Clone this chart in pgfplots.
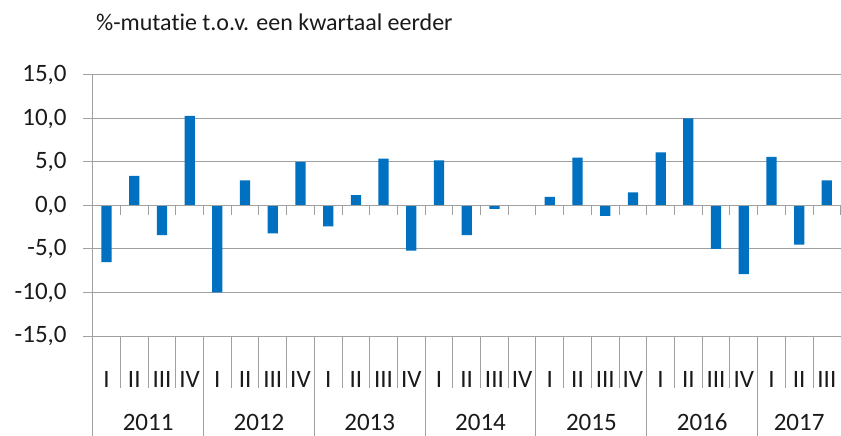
\documentclass[border=0pt]{standalone}
\usepackage{pgfplots}
\pgfplotsset{compat=1.18}
\usepackage{fontspec}
\setmainfont{Carlito}[RawFeature={-liga;-clig;-dlig;-calt}]
\definecolor{barblue}{HTML}{0070C0}
\definecolor{gridgray}{HTML}{A0A0A0}
\definecolor{txt}{HTML}{1A1A1A}
\begin{document}
\begin{tikzpicture}
\useasboundingbox (0bp,0bp) rectangle (841bp,436bp);
\node[anchor=west, inner sep=0pt, text=txt, font=\fontsize{24bp}{28bp}\selectfont] at (96bp,414bp) {\%-mutat\kern0pt ie t.o.v. een kwartaal eerder};
\begin{axis}[
  at={(92.7bp,100bp)}, anchor=south west,
  scale only axis, width=748bp, height=261bp,
  xmin=-0.5, xmax=26.5, ymin=-15, ymax=15,
  clip=false,
  ytick={-15,-10,...,15},
  ymajorgrids, grid style={gridgray, line width=1bp},
  axis line style={draw=none},
  tick align=outside,
  ytick style={gridgray, line width=1bp},
  major tick length=9.4bp,
  xtick={0,...,26}, xtick style={draw=none},
  xticklabels={I,II,III,IV,I,II,III,IV,I,II,III,IV,I,II,III,IV,I,II,III,IV,I,II,III,IV,I,II,III},
  tick label style={text=txt, font=\fontsize{25bp}{30bp}\selectfont},
  xticklabel style={anchor=center, inner sep=0pt, yshift=-34bp},
  yticklabel style={anchor=east, inner sep=0pt, xshift=-16.5bp, /pgf/number format/.cd, fixed, fixed zerofill, precision=1, use comma},
  /pgf/number format/assume math mode=true,
]
\addplot[ybar, bar width=0.37, fill=barblue, draw=none] coordinates {
(0,-6.5) (1,3.4) (2,-3.4) (3,10.3)
(4,-10.0) (5,2.9) (6,-3.2) (7,5.0)
(8,-2.4) (9,1.2) (10,5.4) (11,-5.2)
(12,5.2) (13,-3.4) (14,-0.4) (15,0.0)
(16,1.0) (17,5.5) (18,-1.2) (19,1.5)
(20,6.1) (21,10.0) (22,-5.0) (23,-7.9)
(24,5.6) (25,-4.5) (26,2.9)
};
\draw[gridgray, line width=1bp] (axis cs:-0.5,0) -- (axis cs:26.5,0);
\pgfplotsinvokeforeach{0.5,1.5,...,26.5}{\draw[gridgray, line width=1bp] (axis cs:#1,0) -- ++(0bp,-10bp);}
\pgfplotsinvokeforeach{0.5,1.5,2.5,4.5,5.5,6.5,8.5,9.5,10.5,12.5,13.5,14.5,16.5,17.5,18.5,20.5,21.5,22.5,24.5,25.5}{\draw[gridgray, line width=1bp] (axis cs:#1,-15) -- ++(0bp,-52bp);}
\pgfplotsinvokeforeach{3.5,7.5,11.5,15.5,19.5,23.5}{\draw[gridgray, line width=1bp] (axis cs:#1,-15) -- ++(0bp,-100bp);}
\draw[gridgray, line width=1bp] (axis cs:-0.5,15) -- (axis cs:-0.5,-15) -- ++(0bp,-100bp);
\node[text=txt, font=\fontsize{25bp}{30bp}\selectfont] at (axis cs:1.5,-15) [yshift=-86bp] {2011};
\node[text=txt, font=\fontsize{25bp}{30bp}\selectfont] at (axis cs:5.5,-15) [yshift=-86bp] {2012};
\node[text=txt, font=\fontsize{25bp}{30bp}\selectfont] at (axis cs:9.5,-15) [yshift=-86bp] {2013};
\node[text=txt, font=\fontsize{25bp}{30bp}\selectfont] at (axis cs:13.5,-15) [yshift=-86bp] {2014};
\node[text=txt, font=\fontsize{25bp}{30bp}\selectfont] at (axis cs:17.5,-15) [yshift=-86bp] {2015};
\node[text=txt, font=\fontsize{25bp}{30bp}\selectfont] at (axis cs:21.5,-15) [yshift=-86bp] {2016};
\node[text=txt, font=\fontsize{25bp}{30bp}\selectfont] at (axis cs:25,-15) [yshift=-86bp] {2017};
\end{axis}
\end{tikzpicture}
\end{document}
